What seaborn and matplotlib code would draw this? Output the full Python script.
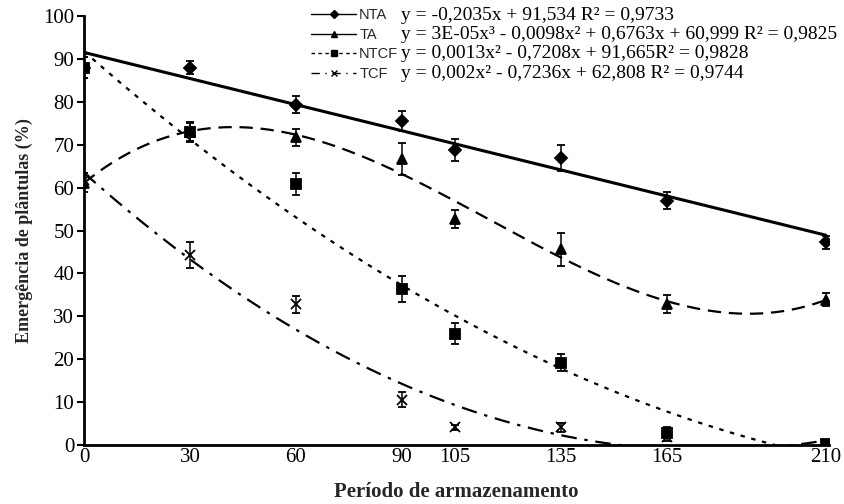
import numpy as np
import matplotlib
matplotlib.use("Agg")
import matplotlib.pyplot as plt
from matplotlib.lines import Line2D
import seaborn as sns

# Dados
dias = [0, 30, 60, 90, 105, 135, 165, 210]
nta = [88.0, 88.0, 79.3, 75.6, 68.8, 67.0, 57.0, 47.3]
nta_err = [2.5, 1.5, 2.0, 2.3, 2.5, 3.0, 2.0, 1.5]
ta = [61.2, 73.0, 71.8, 66.7, 52.7, 45.6, 32.9, 33.9]
ta_err = [2.2, 2.2, 2.0, 3.8, 2.2, 3.8, 2.0, 1.6]
ntcf = [88.0, 72.9, 60.9, 36.3, 26.0, 19.2, 2.9, 0.2]
ntcf_err = [2.5, 2.2, 2.5, 3.0, 2.5, 2.0, 1.2, 0.3]
tcf = [61.9, 44.3, 32.8, 10.6, 4.1, 4.1, 1.8, 0.1]
tcf_err = [1.5, 3.0, 2.0, 1.7, 0.6, 1.0, 0.8, 0.2]

series = ["NTA", "TA", "NTCF", "TCF"]
equacoes = [
    "y = -0,2035x + 91,534 R² = 0,9733",
    "y = 3E-05x³ - 0,0098x² + 0,6763x + 60,999 R² = 0,9825",
    "y = 0,0013x² - 0,7208x + 91,665R² = 0,9828",
    "y = 0,002x² - 0,7236x + 62,808 R² = 0,9744",
]
graus = [1, 3, 2, 2]
marcadores = ["D", "^", "s", "x"]
tam_marc = [6.5, 7.5, 7, 7]
estilos = ["-", (0, (6, 3.5)), (0, (2, 3)), (0, (7, 3.5, 1.5, 3.5))]
leg_estilos = ["-", "-", (0, (2.5, 2.5)), (0, (6, 4, 1, 4))]

sns.set_style("ticks")
plt.rcParams["font.family"] = ["Liberation Serif", "DejaVu Serif"]

fig = plt.figure(figsize=(8.45, 5.04), dpi=100)
ax = fig.add_axes([0.0994, 0.117, 0.882, 0.851])

xs = np.linspace(0, 210, 400)
valores = [nta, ta, ntcf, tcf]
erros = [nta_err, ta_err, ntcf_err, tcf_err]

# curvas de tendência ajustadas + médias com barras de erro
for nome, y, e, g, m, ms, ls in zip(series, valores, erros, graus, marcadores, tam_marc, estilos):
    coef = np.polyfit(dias, y, g)
    sns.lineplot(x=xs, y=np.polyval(coef, xs), ax=ax, color="black",
                 linestyle=ls, linewidth=2.2 if nome == "NTA" else 1.6, zorder=2)
    ax.errorbar(dias, y, yerr=e, fmt=m, color="black", markersize=ms,
                mew=1.3, ecolor="black", elinewidth=1.1, capsize=3.2, capthick=1.1, zorder=3)

ax.set_xlim(0, 211)
ax.set_ylim(0, 100)
ax.set_xticks(dias)
ax.set_xticklabels([str(d) for d in dias])
ax.set_yticks(range(0, 101, 10))
ax.tick_params(axis="x", length=0, labelsize=15, pad=2, colors="black")
ax.tick_params(axis="y", length=5, width=1.5, labelsize=15, pad=2, direction="out", colors="black")
for s in ["top", "right"]:
    ax.spines[s].set_visible(False)
for s in ["left", "bottom"]:
    ax.spines[s].set_linewidth(2.0)
    ax.spines[s].set_color("black")

ax.set_ylabel("Emergência de plântulas (%)", fontsize=13, fontweight="bold", labelpad=7)
ax.set_xlabel("Período de armazenamento", fontsize=15, fontweight="bold", labelpad=11)

handles = []
for nome, m, ls in zip(series, marcadores, leg_estilos):
    ms = 4 if m == "D" else 5
    handles.append(Line2D([0], [0], color="black", linestyle=ls, linewidth=1.0,
                          marker=m, markersize=ms, mew=1.0))
leg = ax.legend(handles, series, loc="upper left", bbox_to_anchor=(0.287, 1.05),
                frameon=False, handlelength=3.1, handletextpad=0.2, labelspacing=0.4,
                borderpad=0.4, prop={"family": "Liberation Sans", "size": 10.5})

for i, eq in enumerate(equacoes):
    ax.text(0.4255, 1.002 - i * 0.045, eq, transform=ax.transAxes, fontsize=14,
            ha="left", va="center", color="black")

fig.savefig("out.png", dpi=100)
